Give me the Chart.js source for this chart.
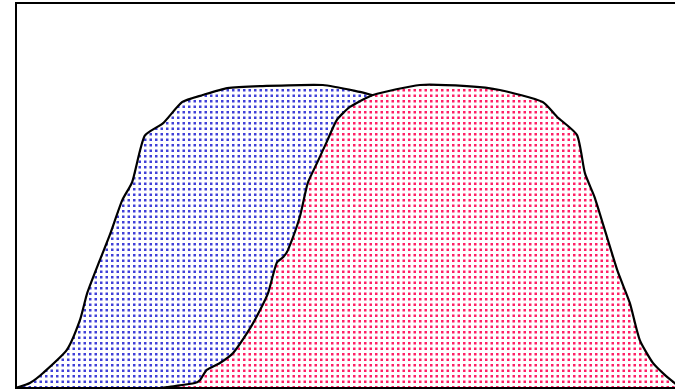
<!DOCTYPE html>
<html>
<head>
<meta charset="utf-8">
<script src="https://cdn.jsdelivr.net/npm/chart.js@4"></script>
<style>
    html, body { margin: 0; padding: 0; background: #fff; overflow: hidden; }
    canvas { display: block; }
</style>
</head>
<body>
<canvas id="chart" width="690" height="391"></canvas>
<script>
// Blue series (x, y)
const blueX = [0, 2.1, 4.1, 7.7, 9.7, 10.8, 12.7, 14.2, 16.1, 17.6, 19.5, 22.3, 25.2, 28.3, 32.0, 37.0, 46.5, 52.1, 55.5, 62, 70, 76, 80, 83, 86, 89];
const blueY = [0, 1.3, 3.9, 9.9, 17.7, 24.7, 33.2, 39.7, 48.8, 53.5, 65.5, 68.8, 74.3, 76.1, 77.9, 78.4, 78.7, 76.9, 75.5, 74, 68, 55, 35, 15, 3, 0];

// Pink series (x, y)
const pinkX = [21.8, 24.1, 27.1, 27.9, 28.9, 30.9, 32.9, 35.5, 37.0, 38.2, 39.5, 40.5, 41.2, 43.0, 44.2, 45.6, 47.1, 48.6, 50.6, 54.1, 61.2, 68.3, 73.3, 79.8, 82.0, 85.0, 86.2, 87.7, 91.1, 93.0, 94.5, 96.5, 98.3, 100];
const pinkY = [0, 0.5, 1.3, 2.1, 4.7, 6.5, 9.1, 15.6, 20.3, 24.7, 32.5, 34.0, 35.8, 44.4, 53.2, 58.4, 64.0, 69.6, 73.0, 76.1, 78.7, 78.4, 77.4, 74.3, 70.4, 65.7, 55.8, 49.4, 30.6, 22.1, 12.5, 6.5, 3.4, 1.0];

const blueDot = '#4040d8';
const pinkDot = '#ff1f66';

// dotted fill: white tile with soft square dots, about 5.5px apart
function dotPattern(color) {
    const tile = document.createElement('canvas');
    tile.width = 11;
    tile.height = 11;
    const c = tile.getContext('2d');
    c.fillStyle = '#fff';
    c.fillRect(0, 0, 11, 11);
    c.fillStyle = color;
    [1, 6.5].forEach(x => {
        [1, 6.5].forEach(y => c.fillRect(x, y, 2.5, 2.5));
    });
    return document.getElementById('chart').getContext('2d').createPattern(tile, 'repeat');
}

function toPoints(xs, ys) {
    return xs.map((x, i) => ({ x: x, y: ys[i] }));
}

// black frame round the plot area
const frame = {
    id: 'frame',
    afterDraw(chart) {
        const a = chart.chartArea;
        const ctx = chart.ctx;
        ctx.save();
        ctx.strokeStyle = '#000';
        ctx.lineWidth = 2;
        ctx.strokeRect(a.left, a.top, a.right - a.left, a.bottom - a.top);
        ctx.restore();
    }
};

new Chart(document.getElementById('chart'), {
    type: 'line',
    data: {
        datasets: [
            {
                data: toPoints(blueX, blueY),
                borderColor: '#000',
                borderWidth: 2.2,
                backgroundColor: dotPattern(blueDot),
                fill: 'origin',
                tension: 0.2,
                pointRadius: 0,
                order: 1
            },
            {
                data: toPoints(pinkX, pinkY),
                borderColor: '#000',
                borderWidth: 2.2,
                backgroundColor: dotPattern(pinkDot),
                fill: 'origin',
                tension: 0.2,
                pointRadius: 0,
                order: 0
            }
        ]
    },
    options: {
        responsive: false,
        animation: false,
        devicePixelRatio: 1,
        layout: { padding: { left: 16, top: 3, right: 14, bottom: 3 } },
        scales: {
            x: { type: 'linear', min: 0, max: 100, display: false },
            y: { min: 0, max: 100, display: false }
        },
        plugins: {
            legend: { display: false },
            tooltip: { enabled: false }
        }
    },
    plugins: [frame]
});
</script>
</body>
</html>
